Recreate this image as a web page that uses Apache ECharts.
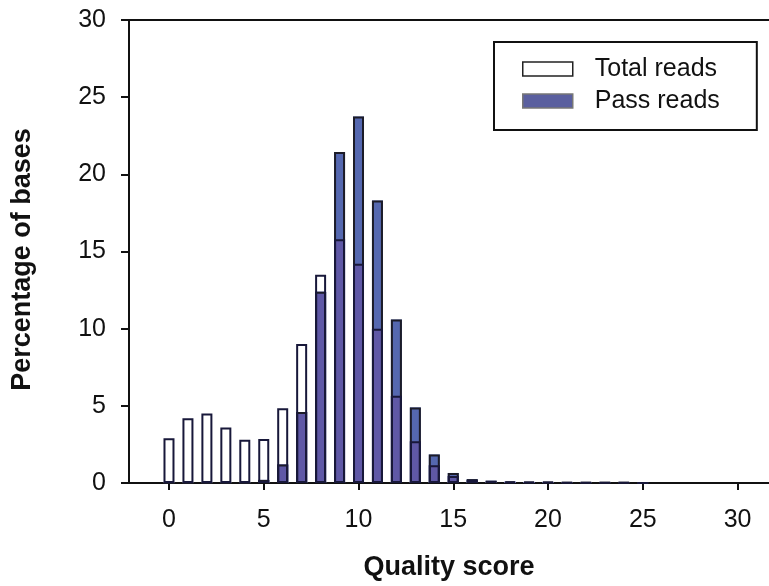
<!DOCTYPE html>
<html><head><meta charset="utf-8">
<script src="https://cdn.jsdelivr.net/npm/echarts@6/dist/echarts.min.js"></script>
<style>html,body{margin:0;padding:0;background:#fff}#c{width:769px;height:586px}</style>
</head><body><div id="c"></div>
<script>
var scores = [0,1,2,3,4,5,6,7,8,9,10,11,12,13,14,15,16,17,18,19,20,21,22,23,24,25];
var totalReads = [2.9,4.2,4.5,3.6,2.8,2.85,4.85,9.0,13.5,15.8,14.2,10.0,5.65,2.7,1.15,0.45,0.2,0.12,0.08,0.06,0.05,0.03,0.03,0.02,0.02,0.01];
var passReads  = [0,0,0,0,0,0.2,1.2,4.6,12.4,21.45,23.75,18.3,10.6,4.9,1.85,0.65,0.25,0.15,0.1,0.07,0.05,0.04,0.03,0.02,0.02,0.01];
var xTicks = [0,5,10,15,20,25,30];

function pairs(a){ return scores.map(function(s,i){ return [s,a[i]]; }); }
var overlap = totalReads.map(function(t,i){ return Math.min(t, passReads[i]); });

var font = '"Liberation Sans", Arial, sans-serif';
var chart = echarts.init(document.getElementById('c'), null, {renderer:'canvas'});
var bw = 11;
var xMin = -2.11, xMax = 31.66;
chart.setOption({
  animation:false,
  backgroundColor:'#fff',
  grid:{left:129, right:0, top:20, bottom:103, containLabel:false},
  legend:{
    left:494, top:42,
    orient:'vertical', align:'left',
    borderColor:'#111', borderWidth:2,
    padding:[13,37,15,28],
    itemWidth:50, itemHeight:14, itemGap:4,
    textStyle:{fontFamily:font, fontSize:25, lineHeight:25, color:'#111', padding:[3,0,0,17]},
    selectedMode:false,
    data:[
      {name:'Total reads', icon:'rect', itemStyle:{color:'#fff', borderColor:'#222', borderWidth:1.5}},
      {name:'Pass reads', icon:'rect', itemStyle:{color:'#5a5f9f', borderColor:'#777', borderWidth:1.5}}
    ]
  },
  xAxis:[{
    type:'value', min:xMin, max:xMax,
    name:'Quality score', nameLocation:'middle', nameGap:71,
    nameTextStyle:{fontFamily:font, fontSize:27, fontWeight:'bold', color:'#111'},
    axisLine:{show:true, onZero:false, lineStyle:{color:'#111', width:2}},
    axisTick:{show:true, length:7, customValues:xTicks, lineStyle:{color:'#111', width:2}},
    axisLabel:{customValues:xTicks, margin:25, fontFamily:font, fontSize:25, color:'#111'},
    splitLine:{show:false}
  },{
    type:'value', position:'top', min:xMin, max:xMax,
    axisLine:{show:true, onZero:false, lineStyle:{color:'#111', width:2}},
    axisTick:{show:false}, axisLabel:{show:false}, splitLine:{show:false}
  }],
  yAxis:{
    type:'value', min:0, max:30, interval:5,
    name:'Percentage of bases', nameLocation:'middle', nameGap:93,
    nameTextStyle:{fontFamily:font, fontSize:27, fontWeight:'bold', color:'#111', padding:[0,16,0,0]},
    axisLine:{show:true, onZero:false, lineStyle:{color:'#111', width:2}},
    axisTick:{show:true, length:8, lineStyle:{color:'#111', width:2}},
    axisLabel:{margin:23, fontFamily:font, fontSize:25, color:'#111'},
    splitLine:{show:false}
  },
  series:[
    {name:'Total reads', type:'bar', barWidth:bw, barGap:'-100%', data:pairs(totalReads),
      itemStyle:{color:'#fff', borderWidth:0}},
    {name:'Pass reads', type:'bar', barWidth:bw, barGap:'-100%', data:pairs(passReads),
      itemStyle:{color:'#5568b0', borderWidth:0}},
    {name:'overlap', type:'bar', barWidth:bw, barGap:'-100%', data:pairs(overlap),
      itemStyle:{color:'#5f58a6', borderWidth:0}},
    {name:'pass outline', type:'bar', barWidth:bw, barGap:'-100%', data:pairs(passReads),
      itemStyle:{color:'rgba(0,0,0,0)', borderColor:'#1c1c28', borderWidth:2}},
    {name:'total outline', type:'bar', barWidth:bw, barGap:'-100%', data:pairs(totalReads),
      itemStyle:{color:'rgba(0,0,0,0)', borderColor:'#18183a', borderWidth:2}}
  ]
});
</script></body></html>
